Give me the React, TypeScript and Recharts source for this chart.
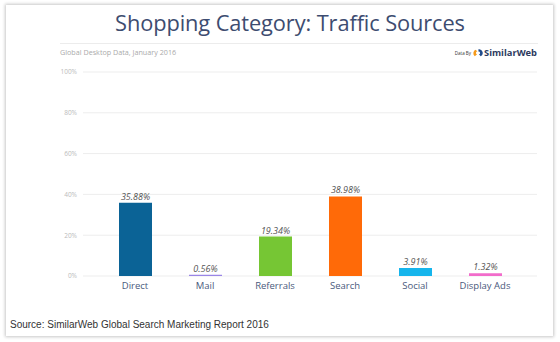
import React from "react";
import { BarChart, Bar, XAxis, YAxis, CartesianGrid, Cell, LabelList } from "recharts";

const categories = ["Direct", "Mail", "Referrals", "Search", "Social", "Display Ads"];
const shares = [35.88, 0.56, 19.34, 38.98, 3.91, 1.32];
const colors = ["#0b6396", "#9a86e6", "#76c634", "#ff6a08", "#16b5ec", "#f26ccb"];
const yTicks = [0, 20, 40, 60, 80, 100];

const data = categories.map((name, i) => ({ name, value: shares[i] }));

const font = "'Open Sans', sans-serif";

export default function App() {
  return (
    <div style={{ position: "fixed", left: 0, top: 0, width: 560, height: 342, background: "#fff", overflow: "hidden" }}>
      <div
        style={{
          position: "absolute",
          left: 6,
          top: 5,
          width: 547,
          height: 331,
          background: "#fff",
          boxShadow: "0 0 3px 1px rgba(0,0,0,0.22)",
        }}
      />
      <div
        style={{
          position: "absolute",
          left: 0,
          width: 580,
          top: 8,
          textAlign: "center",
          fontFamily: font,
          fontSize: 21.8,
          color: "#3d4c70",
          letterSpacing: -0.1,
        }}
      >
        Shopping Category: Traffic Sources
      </div>
      <div style={{ position: "absolute", left: 60, top: 43, width: 478, height: 1, background: "#ececec" }} />
      <div style={{ position: "absolute", left: 60, top: 47, fontFamily: font, fontSize: 7.2, color: "#aaa" }}>
        Global Desktop Data, January 2016
      </div>
      <div style={{ position: "absolute", right: 23, top: 46, display: "flex", alignItems: "center" }}>
        <span style={{ fontFamily: font, fontSize: 4.5, color: "#333", marginRight: 2 }}>Data By</span>
        <svg width="10" height="10" viewBox="0 0 11 11">
          <path d="M2 9 A4 4 0 0 1 3 2 L5 4 A1.5 1.5 0 0 0 4.5 7 Z" fill="#f59a1b" />
          <path d="M6 1.5 A4 4 0 0 1 8.5 9 L6.5 7 A1.5 1.5 0 0 0 6 4 Z" fill="#1f4b8c" />
        </svg>
        <span style={{ fontFamily: font, fontSize: 9.3, fontWeight: 700, color: "#2c3a5e", marginLeft: 1 }}>SimilarWeb</span>
      </div>
      <div
        style={{
          position: "absolute",
          left: 10,
          top: 319,
          fontFamily: "'Liberation Sans', Arial, sans-serif",
          fontSize: 10,
          color: "#333",
        }}
      >
        Source: SimilarWeb Global Search Marketing Report 2016
      </div>
      <div style={{ position: "absolute", left: 0, top: 0 }}>
        <BarChart width={560} height={342} data={data} margin={{ top: 72, right: 23, bottom: 36, left: 33 }}>
          <CartesianGrid vertical={false} stroke="#ededed" />
          <XAxis
            dataKey="name"
            axisLine={false}
            tickLine={false}
            height={30}
            tickSize={4}
            tickMargin={2}
            padding={{ left: 17, right: 17 }}
            tick={{ fontFamily: font, fontSize: 9.5, fill: "#4a597c" }}
            interval={0}
          />
          <YAxis
            domain={[0, 100]}
            ticks={yTicks}
            width={50}
            axisLine={false}
            tickLine={false}
            tickSize={4}
            tickMargin={2}
            tickFormatter={(v) => `${v}%`}
            tick={{ fontFamily: font, fontSize: 6.5, fill: "#bbb" }}
          />
          <Bar dataKey="value" barSize={33} isAnimationActive={false}>
            {data.map((d, i) => (
              <Cell key={d.name} fill={colors[i]} />
            ))}
            <LabelList
              dataKey="value"
              position="top"
              offset={3}
              formatter={(v: number) => `${v.toFixed(2)}%`}
              style={{ fontFamily: font, fontSize: 9, fontStyle: "italic", fill: "#555" }}
            />
          </Bar>
        </BarChart>
      </div>
    </div>
  );
}
